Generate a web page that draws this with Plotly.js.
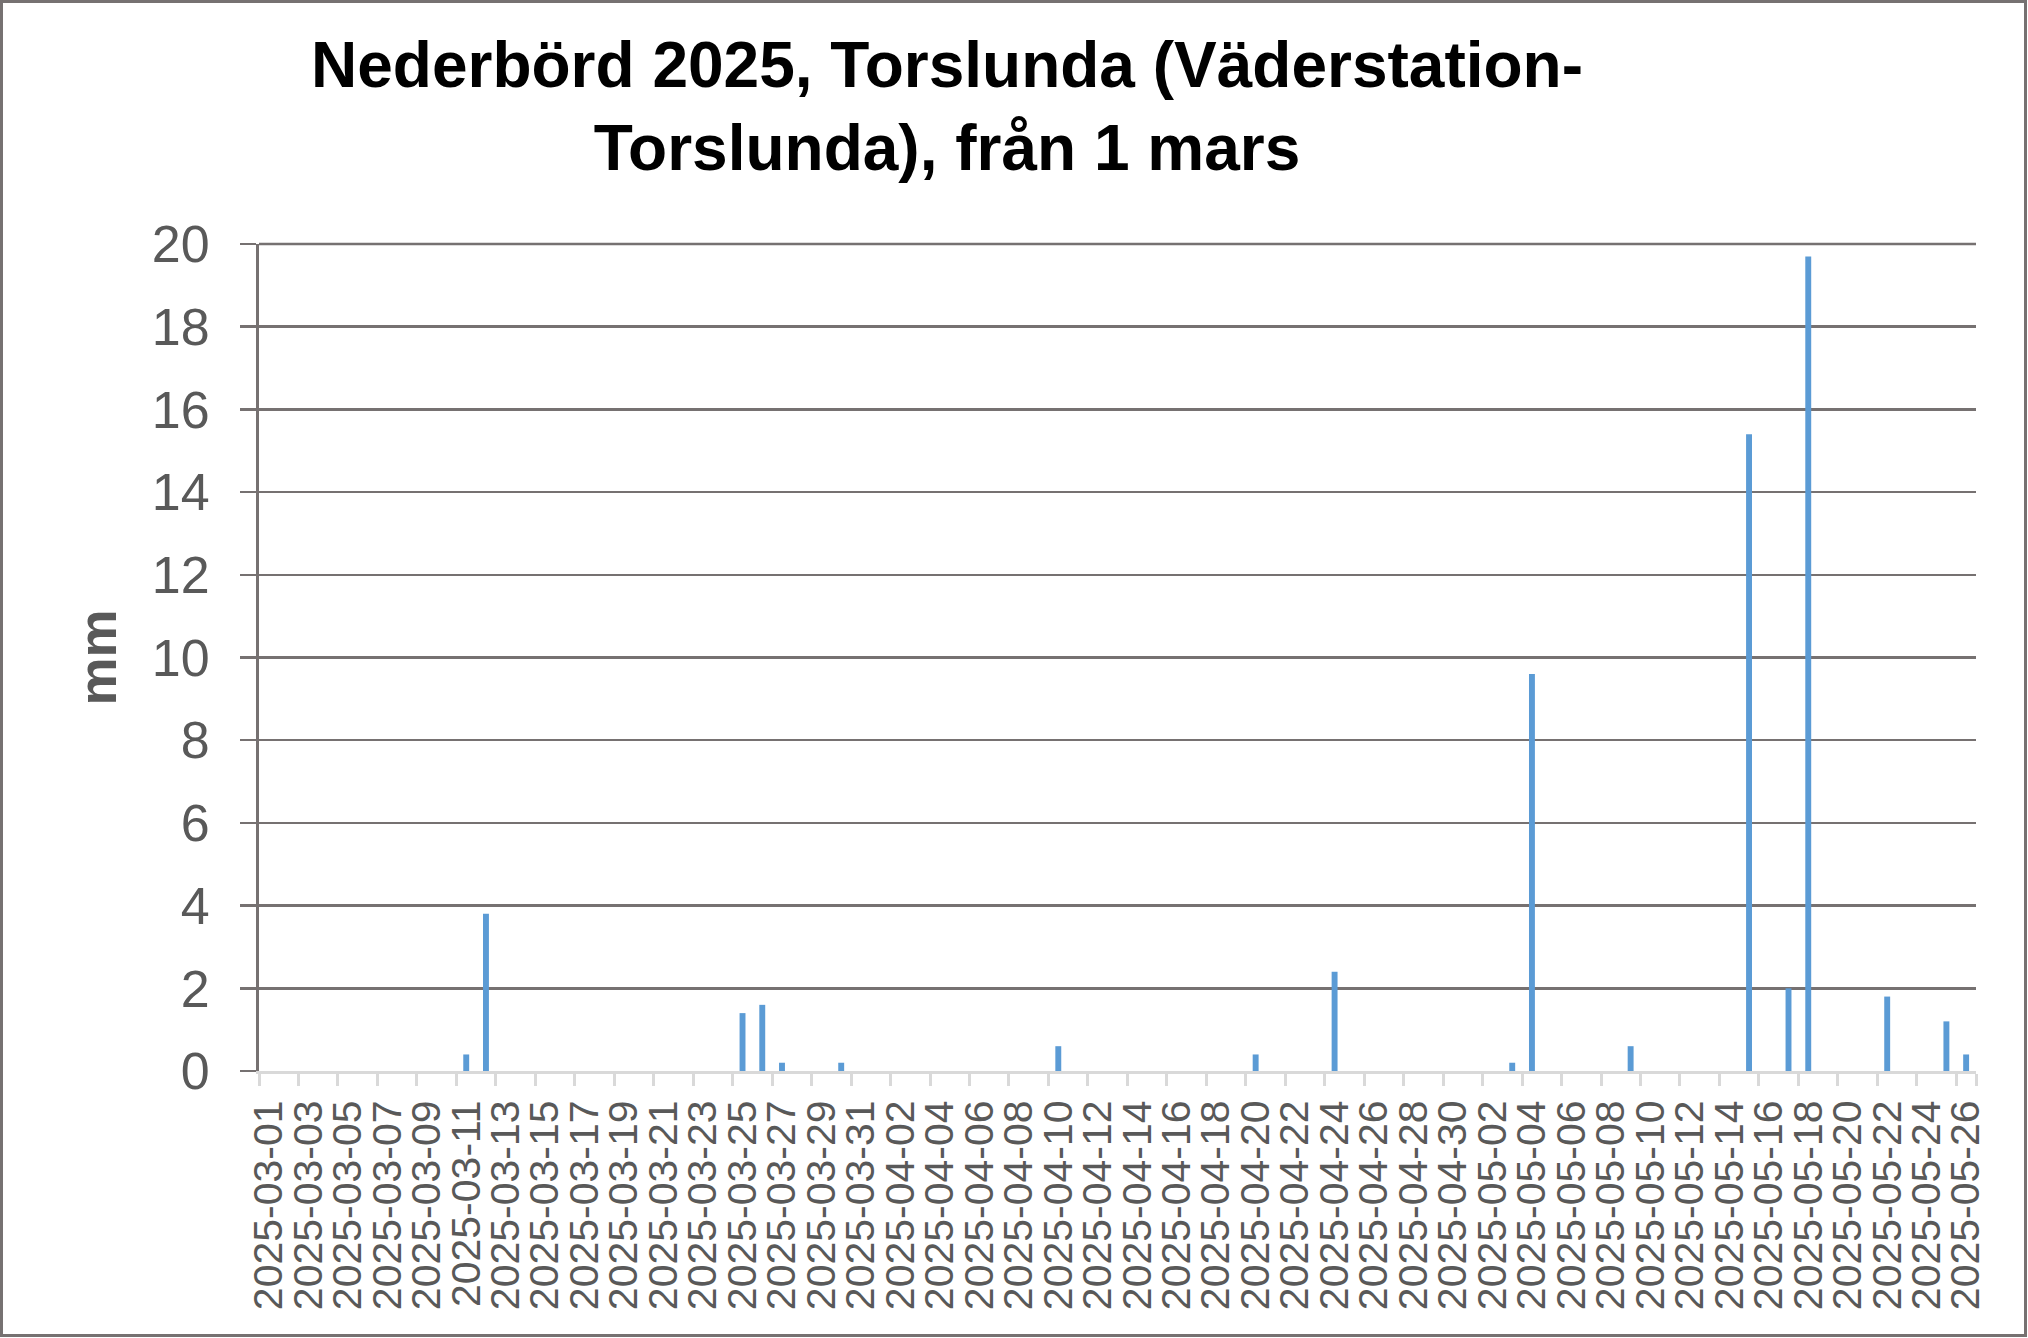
<!DOCTYPE html>
<html>
<head>
<meta charset="utf-8">
<script src="https://cdn.plot.ly/plotly-3.0.1.min.js"></script>
<style>
html, body { margin: 0; padding: 0; background: #ffffff; }
#chart { width: 2028px; height: 1338px; }
</style>
</head>
<body>
<div id="chart"></div>
<script>
// Daily dates (categories)
const dates = [
  "2025-03-01","2025-03-02","2025-03-03","2025-03-04","2025-03-05","2025-03-06","2025-03-07","2025-03-08","2025-03-09","2025-03-10",
  "2025-03-11","2025-03-12","2025-03-13","2025-03-14","2025-03-15","2025-03-16","2025-03-17","2025-03-18","2025-03-19","2025-03-20",
  "2025-03-21","2025-03-22","2025-03-23","2025-03-24","2025-03-25","2025-03-26","2025-03-27","2025-03-28","2025-03-29","2025-03-30",
  "2025-03-31",
  "2025-04-01","2025-04-02","2025-04-03","2025-04-04","2025-04-05","2025-04-06","2025-04-07","2025-04-08","2025-04-09","2025-04-10",
  "2025-04-11","2025-04-12","2025-04-13","2025-04-14","2025-04-15","2025-04-16","2025-04-17","2025-04-18","2025-04-19","2025-04-20",
  "2025-04-21","2025-04-22","2025-04-23","2025-04-24","2025-04-25","2025-04-26","2025-04-27","2025-04-28","2025-04-29","2025-04-30",
  "2025-05-01","2025-05-02","2025-05-03","2025-05-04","2025-05-05","2025-05-06","2025-05-07","2025-05-08","2025-05-09","2025-05-10",
  "2025-05-11","2025-05-12","2025-05-13","2025-05-14","2025-05-15","2025-05-16","2025-05-17","2025-05-18","2025-05-19","2025-05-20",
  "2025-05-21","2025-05-22","2025-05-23","2025-05-24","2025-05-25","2025-05-26"
];

// Precipitation (mm) per day
const precipitation = [
  0, 0, 0, 0, 0, 0, 0, 0, 0, 0,
  0.4, 3.8, 0, 0, 0, 0, 0, 0, 0, 0,
  0, 0, 0, 0, 1.4, 1.6, 0.2, 0, 0, 0.2,
  0,
  0, 0, 0, 0, 0, 0, 0, 0, 0, 0.6,
  0, 0, 0, 0, 0, 0, 0, 0, 0, 0.4,
  0, 0, 0, 2.4, 0, 0, 0, 0, 0, 0,
  0, 0, 0.2, 9.6, 0, 0, 0, 0, 0.6, 0,
  0, 0, 0, 0, 15.4, 0, 2.0, 19.7, 0, 0,
  0, 1.8, 0, 0, 1.2, 0.4
];

// Labelled ticks (every second day)
const tickLabels = [
  "2025-03-01","2025-03-03","2025-03-05","2025-03-07","2025-03-09","2025-03-11","2025-03-13","2025-03-15",
  "2025-03-17","2025-03-19","2025-03-21","2025-03-23","2025-03-25","2025-03-27","2025-03-29","2025-03-31",
  "2025-04-02","2025-04-04","2025-04-06","2025-04-08","2025-04-10","2025-04-12","2025-04-14","2025-04-16",
  "2025-04-18","2025-04-20","2025-04-22","2025-04-24","2025-04-26","2025-04-28","2025-04-30",
  "2025-05-02","2025-05-04","2025-05-06","2025-05-08","2025-05-10","2025-05-12","2025-05-14","2025-05-16",
  "2025-05-18","2025-05-20","2025-05-22","2025-05-24","2025-05-26"
];

const yTicks = [0, 2, 4, 6, 8, 10, 12, 14, 16, 18, 20];

const titleText = "Nederbörd 2025, Torslunda (Väderstation-<br>Torslunda), från 1 mars";
const yTitle = "mm";

const W = 2028, H = 1338;
const M = { l: 259, r: 52, t: 244, b: 267 };
const pw = W - M.l - M.r, ph = H - M.t - M.b;
const px = v => (v - M.l) / pw;
const py = v => 1 - (v - M.t) / ph;

const FONT = "'Liberation Sans', Arial, sans-serif";
const GRID = "#767171";

const trace = {
  type: "bar",
  x: dates,
  y: precipitation,
  marker: { color: "#5B9BD5", line: { width: 0 } },
  hoverinfo: "x+y"
};

const layout = {
  width: W,
  height: H,
  margin: M,
  paper_bgcolor: "#ffffff",
  plot_bgcolor: "#ffffff",
  showlegend: false,
  bargap: 0.7,
  font: { family: FONT, color: "#595959" },
  title: {
    text: titleText,
    font: { family: FONT, size: 64, color: "#000000", weight: "bold" },
    x: 947 / W,
    xanchor: "center",
    xref: "container",
    y: 1 - 87 / H,
    yanchor: "top",
    yref: "container"
  },
  xaxis: {
    type: "category",
    categoryorder: "array",
    categoryarray: dates,
    range: [-0.5, dates.length - 0.5],
    tickmode: "array",
    tickvals: tickLabels,
    ticktext: tickLabels,
    tickangle: -90,
    tickfont: { family: FONT, size: 41, color: "#595959" },
    ticks: "outside",
    tickson: "boundaries",
    ticklen: 12,
    tickwidth: 3,
    tickcolor: "#d9d9d9",
    showline: true,
    linecolor: "#d9d9d9",
    linewidth: 3,
    showgrid: false,
    zeroline: false,
    ticklabelstandoff: 10
  },
  yaxis: {
    range: [0, 20],
    tickmode: "array",
    tickvals: yTicks,
    tickfont: { family: FONT, size: 52, color: "#595959" },
    ticks: "outside",
    ticklen: 16,
    tickwidth: 2.5,
    tickcolor: GRID,
    showline: true,
    linecolor: GRID,
    linewidth: 3,
    showgrid: true,
    gridcolor: GRID,
    gridwidth: 2.5,
    zeroline: false,
    ticklabelstandoff: 20,
    title: {
      text: yTitle,
      font: { family: FONT, size: 54, color: "#595959", weight: "bold" },
      standoff: 18
    }
  },
  shapes: [
    // top gridline (at the top of the value range) that Plotly omits at the plot edge
    {
      type: "line",
      xref: "paper", yref: "paper",
      x0: 0, x1: 1,
      y0: 1, y1: 1,
      line: { color: GRID, width: 2.5 },
      layer: "above"
    },
    // chart-area frame
    {
      type: "rect",
      xref: "paper", yref: "paper",
      x0: px(1.5), x1: px(W - 2.5),
      y0: py(1.5), y1: py(H - 2.5),
      line: { color: GRID, width: 3 },
      fillcolor: "rgba(0,0,0,0)",
      layer: "above"
    }
  ]
};

Plotly.newPlot("chart", [trace], layout, { displayModeBar: false, staticPlot: true });
</script>
</body>
</html>
